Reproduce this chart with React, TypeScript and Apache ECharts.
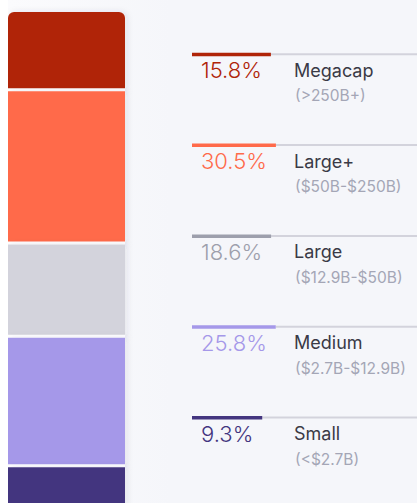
import React, { useEffect, useRef } from "react";
import * as echarts from "echarts";

const categories = ["Megacap", "Large+", "Large", "Medium", "Small"];
const shares = [15.8, 30.5, 18.6, 25.8, 9.3];
const ranges = ["(>250B+)", "($50B-$250B)", "($12.9B-$50B)", "($2.7B-$12.9B)", "(<$2.7B)"];
const barColors = ["#b02408", "#ff6a4a", "#d3d3dc", "#a598e9", "#43357f"];
const accentColors = ["#b02408", "#ff6a4a", "#9d9fac", "#a598e9", "#43357f"];

const FONT = "Inter, 'Noto Sans', sans-serif";

export default function App() {
  const ref = useRef<HTMLDivElement>(null);

  useEffect(() => {
    if (!ref.current) return;
    const chart = echarts.init(ref.current, undefined, { renderer: "svg" });

    let cum = 0;
    const data = shares.map((v, i) => {
      const item = { value: [0, cum, cum + v], name: categories[i] };
      cum += v;
      return item;
    });

    const ctx = document.createElement("canvas").getContext("2d")!;
    const pctFont = `300 22px ${FONT}`;
    ctx.font = pctFont;

    const lineX = 184;
    const rightX = 409;
    const firstY = 52.7;
    const step = 90.85;
    const graphic: any[] = [];
    shares.forEach((v, i) => {
      const L = firstY + step * i;
      const pct = `${v.toFixed(1)}%`;
      const tw = ctx.measureText(pct).width;
      const cw = tw + 18;
      graphic.push({ type: "rect", shape: { x: lineX + cw, y: L + 0.5, width: rightX - lineX - cw, height: 2 }, style: { fill: "#d3d3dc" } });
      graphic.push({ type: "rect", shape: { x: lineX, y: L, width: cw, height: 3.5 }, style: { fill: accentColors[i] } });
      graphic.push({ type: "text", x: lineX + 9, y: L + 17.5, style: { text: pct, fill: accentColors[i], font: pctFont, verticalAlign: "middle", align: "left" } });
      graphic.push({ type: "text", x: 286, y: L + 17.5, style: { text: categories[i], fill: "#3a3a46", font: `400 18px ${FONT}`, verticalAlign: "middle", align: "left" } });
      graphic.push({ type: "text", x: 287, y: L + 43, style: { text: ranges[i], fill: "#a4a6b6", font: `400 15.5px ${FONT}`, verticalAlign: "middle", align: "left" } });
    });

    const n = shares.length;
    chart.setOption({
      animation: false,
      grid: { left: 0, top: 12, width: 117, height: 502 },
      xAxis: { type: "category", data: ["share"], show: false },
      yAxis: { type: "value", min: 0, max: 100, inverse: true, show: false },
      series: [
        {
          type: "custom",
          data,
          renderItem: (params: any, api: any) => {
            const idx = params.dataIndex;
            const p0 = api.coord([0, api.value(1)]);
            const p1 = api.coord([0, api.value(2)]);
            const bw = api.size([1, 0])[0];
            const gap = idx < n - 1 ? 3 : 0;
            const r = idx === 0 ? [6, 6, 0, 0] : 0;
            return {
              type: "group",
              children: [
                {
                  type: "rect",
                  shape: { x: p0[0] - bw / 2, y: p0[1], width: bw, height: p1[1] - p0[1], r },
                  style: { fill: "#ffffff", shadowBlur: 6, shadowOffsetX: 2, shadowColor: "rgba(60,60,100,0.10)" },
                },
                {
                  type: "rect",
                  shape: { x: p0[0] - bw / 2, y: p0[1], width: bw, height: p1[1] - p0[1] - gap, r },
                  style: { fill: barColors[idx] },
                },
              ],
            };
          },
        },
      ],
      graphic,
    });

    return () => chart.dispose();
  }, []);

  return (
    <div
      style={{
        position: "fixed",
        left: 0,
        top: 0,
        width: 417,
        height: 503,
        overflow: "hidden",
        background: "#ffffff",
      }}
    >
      <div
        ref={ref}
        style={{
          position: "absolute",
          left: 8,
          top: 0,
          width: 409,
          height: 528,
          background: "linear-gradient(90deg, #fbfbfd 0%, #f5f6fa 40%, #f5f6fa 100%)",
        }}
      />
    </div>
  );
}
